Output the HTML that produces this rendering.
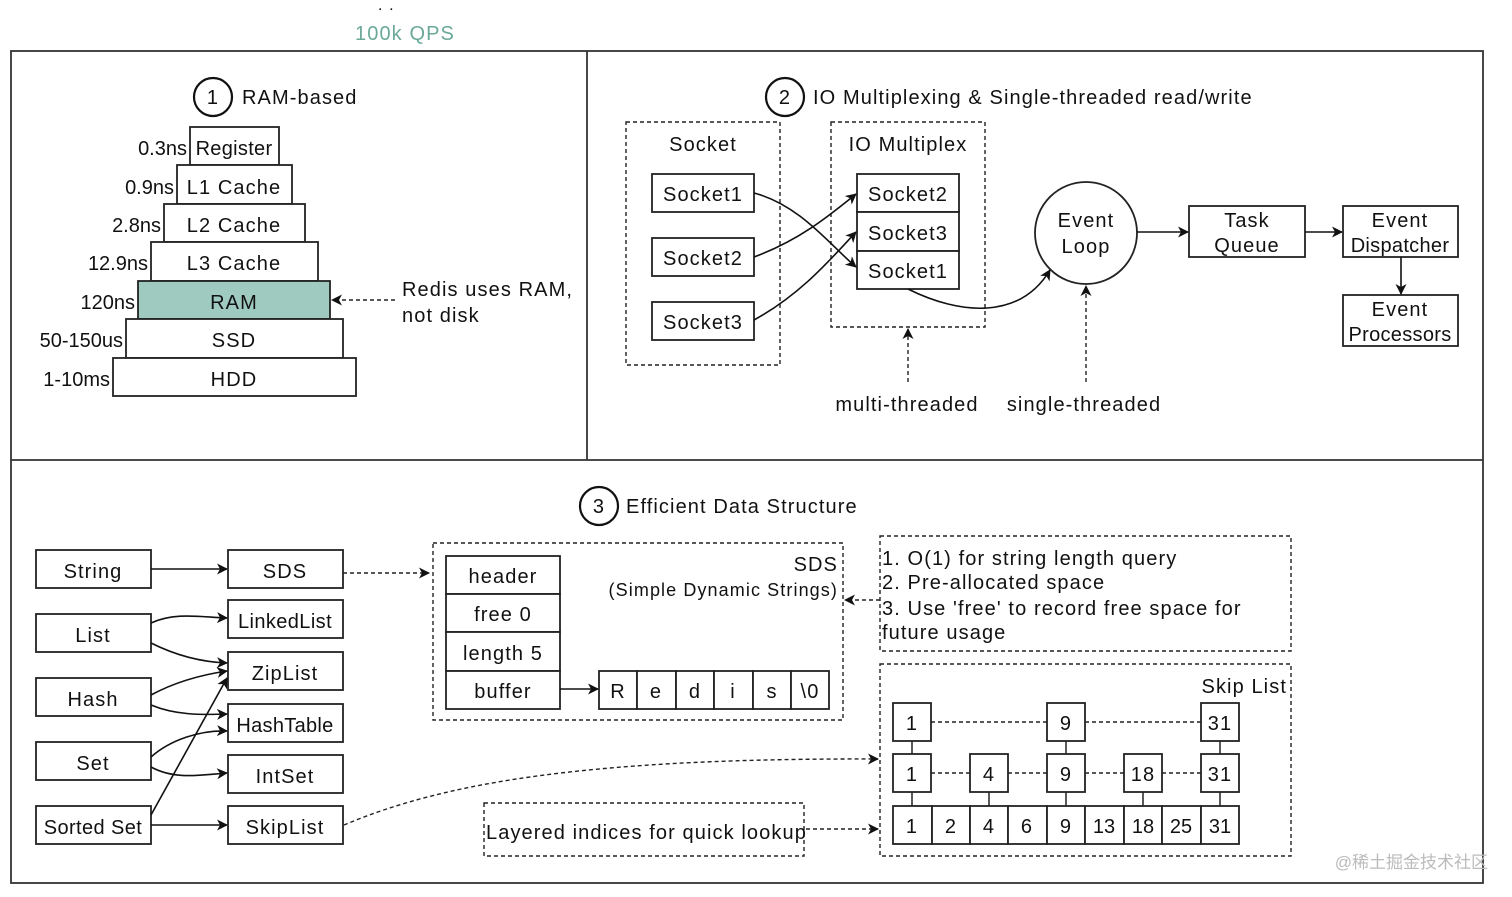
<!DOCTYPE html>
<html><head><meta charset="utf-8"><style>
html,body{margin:0;padding:0;background:#fff;}
svg{display:block;}
text{font-family:"Liberation Sans","Noto Sans CJK SC",sans-serif;font-size:20px;fill:#111;letter-spacing:1.1px;}
.c{text-anchor:middle;}
.r{text-anchor:end;}
.b{fill:#fff;stroke:#222;stroke-width:1.8;}
.d{fill:none;stroke:#222;stroke-width:1.4;stroke-dasharray:4 3;}
.l{fill:none;stroke:#111;stroke-width:1.6;}
</style></head><body>
<svg width="1512" height="897" viewBox="0 0 1512 897" xmlns="http://www.w3.org/2000/svg">
<defs>
<marker id="a" markerWidth="11" markerHeight="11" refX="10" refY="5.5" orient="auto" markerUnits="userSpaceOnUse">
<path d="M0,0 L11,5.5 L0,11 L3,5.5 Z" fill="#111"/></marker>
</defs>
<text x="378" y="10" style="font-size:16px">. .</text>
<text x="405" y="40" class="c" style="fill:#6aa99a">100k QPS</text>
<rect x="11" y="51" width="1472" height="832" fill="none" stroke="#333" stroke-width="1.8"/>
<line x1="587" y1="51" x2="587" y2="460" stroke="#333" stroke-width="1.8"/>
<line x1="11" y1="460" x2="1483" y2="460" stroke="#333" stroke-width="1.8"/>

<!-- Section 1 -->
<circle cx="213" cy="97" r="19" fill="none" stroke="#111" stroke-width="2.2"/>
<text x="213" y="104" class="c">1</text>
<text x="242" y="104">RAM-based</text>
<rect class="b" x="190" y="127" width="89" height="38"/><text x="234" y="155" class="c" style="letter-spacing:0.3px">Register</text>
<rect class="b" x="177" y="165" width="115" height="39"/><text x="234" y="194" class="c">L1 Cache</text>
<rect class="b" x="164" y="204" width="141" height="38"/><text x="234" y="232" class="c">L2 Cache</text>
<rect class="b" x="151" y="242" width="167" height="39"/><text x="234" y="270" class="c">L3 Cache</text>
<rect x="138" y="281" width="192" height="38" fill="#9fcac0" stroke="#222" stroke-width="1.8"/><text x="234" y="309" class="c">RAM</text>
<rect class="b" x="126" y="319" width="217" height="39"/><text x="234" y="347" class="c">SSD</text>
<rect class="b" x="113" y="358" width="243" height="38"/><text x="234" y="386" class="c">HDD</text>
<text x="187" y="155" class="r" style="letter-spacing:0">0.3ns</text>
<text x="174" y="194" class="r" style="letter-spacing:0">0.9ns</text>
<text x="161" y="232" class="r" style="letter-spacing:0">2.8ns</text>
<text x="148" y="270" class="r" style="letter-spacing:0">12.9ns</text>
<text x="135" y="309" class="r" style="letter-spacing:0">120ns</text>
<text x="123" y="347" class="r" style="letter-spacing:0">50-150us</text>
<text x="110" y="386" class="r" style="letter-spacing:0">1-10ms</text>
<line class="d" x1="395" y1="300" x2="332" y2="300" marker-end="url(#a)"/>
<text x="402" y="296">Redis uses RAM,</text>
<text x="402" y="322">not disk</text>

<!-- Section 2 -->
<circle cx="785" cy="97" r="19" fill="none" stroke="#111" stroke-width="2.2"/>
<text x="785" y="104" class="c">2</text>
<text x="813" y="104">IO Multiplexing &amp; Single-threaded read/write</text>
<rect class="d" x="626" y="122" width="154" height="243"/>
<text x="703" y="151" class="c">Socket</text>
<rect class="b" x="652" y="174" width="102" height="38"/><text x="703" y="201" class="c">Socket1</text>
<rect class="b" x="652" y="238" width="102" height="38"/><text x="703" y="265" class="c">Socket2</text>
<rect class="b" x="652" y="302" width="102" height="38"/><text x="703" y="329" class="c">Socket3</text>
<rect class="d" x="831" y="122" width="154" height="205"/>
<text x="908" y="151" class="c">IO Multiplex</text>
<rect class="b" x="857" y="174" width="102" height="38"/><text x="908" y="201" class="c">Socket2</text>
<rect class="b" x="857" y="212" width="102" height="39"/><text x="908" y="240" class="c">Socket3</text>
<rect class="b" x="857" y="251" width="102" height="38"/><text x="908" y="278" class="c">Socket1</text>
<path class="l" d="M754,193 C800,205 830,245 856,267" marker-end="url(#a)"/>
<path class="l" d="M754,257 C800,240 830,215 856,194" marker-end="url(#a)"/>
<path class="l" d="M754,320 C800,295 830,260 856,232" marker-end="url(#a)"/>
<path class="l" d="M908,289 C960,315 1020,320 1050,270" marker-end="url(#a)"/>
<circle cx="1086" cy="233" r="51" fill="#fff" stroke="#222" stroke-width="1.8"/>
<text x="1086" y="227" class="c">Event</text><text x="1086" y="253" class="c">Loop</text>
<rect class="b" x="1189" y="206" width="116" height="51"/>
<text x="1247" y="227" class="c">Task</text><text x="1247" y="252" class="c">Queue</text>
<rect class="b" x="1343" y="206" width="115" height="51"/>
<text x="1400" y="227" class="c">Event</text><text x="1400" y="252" class="c" style="letter-spacing:0.3px">Dispatcher</text>
<rect class="b" x="1343" y="295" width="115" height="51"/>
<text x="1400" y="316" class="c">Event</text><text x="1400" y="341" class="c" style="letter-spacing:0.3px">Processors</text>
<line class="l" x1="1137" y1="232" x2="1188" y2="232" marker-end="url(#a)"/>
<line class="l" x1="1305" y1="232" x2="1342" y2="232" marker-end="url(#a)"/>
<line class="l" x1="1401" y1="257" x2="1401" y2="294" marker-end="url(#a)"/>
<line class="d" x1="908" y1="382" x2="908" y2="329" marker-end="url(#a)"/>
<line class="d" x1="1086" y1="382" x2="1086" y2="286" marker-end="url(#a)"/>
<text x="907" y="411" class="c">multi-threaded</text>
<text x="1084" y="411" class="c">single-threaded</text>

<!-- Section 3 -->
<circle cx="599" cy="506" r="19" fill="none" stroke="#111" stroke-width="2.2"/>
<text x="599" y="513" class="c">3</text>
<text x="626" y="513">Efficient Data Structure</text>
<rect class="b" x="36" y="550" width="115" height="38"/><text x="93" y="578" class="c">String</text>
<rect class="b" x="36" y="614" width="115" height="38"/><text x="93" y="642" class="c">List</text>
<rect class="b" x="36" y="678" width="115" height="38"/><text x="93" y="706" class="c">Hash</text>
<rect class="b" x="36" y="742" width="115" height="38"/><text x="93" y="770" class="c">Set</text>
<rect class="b" x="36" y="806" width="115" height="38"/><text x="93" y="834" class="c" style="letter-spacing:0.4px">Sorted Set</text>
<rect class="b" x="228" y="550" width="115" height="38"/><text x="285" y="578" class="c">SDS</text>
<rect class="b" x="228" y="600" width="115" height="38"/><text x="285" y="628" class="c" style="letter-spacing:0.4px">LinkedList</text>
<rect class="b" x="228" y="652" width="115" height="38"/><text x="285" y="680" class="c">ZipList</text>
<rect class="b" x="228" y="704" width="115" height="38"/><text x="285" y="732" class="c" style="letter-spacing:0.3px">HashTable</text>
<rect class="b" x="228" y="755" width="115" height="38"/><text x="285" y="783" class="c">IntSet</text>
<rect class="b" x="228" y="806" width="115" height="38"/><text x="285" y="834" class="c">SkipList</text>
<line class="l" x1="151" y1="569" x2="227" y2="569" marker-end="url(#a)"/>
<path class="l" d="M151,623 C175,612 200,617 227,618" marker-end="url(#a)"/>
<path class="l" d="M151,643 C175,655 200,662 227,663" marker-end="url(#a)"/>
<path class="l" d="M151,695 C175,682 200,675 227,671" marker-end="url(#a)"/>
<path class="l" d="M151,705 C175,715 200,715 227,714" marker-end="url(#a)"/>
<path class="l" d="M151,757 C170,740 200,730 227,731" marker-end="url(#a)"/>
<path class="l" d="M151,767 C175,780 200,775 227,773" marker-end="url(#a)"/>
<line class="l" x1="151" y1="815" x2="227" y2="678" marker-end="url(#a)"/>
<line class="l" x1="151" y1="825" x2="227" y2="825" marker-end="url(#a)"/>
<line class="d" x1="343" y1="573" x2="429" y2="573" marker-end="url(#a)"/>
<path class="d" d="M344,825 C450,780 600,758 878,759" marker-end="url(#a)"/>

<rect class="d" x="433" y="543" width="410" height="177"/>
<text x="838" y="571" class="r">SDS</text>
<text x="838" y="596" class="r" style="font-size:18px">(Simple Dynamic Strings)</text>
<rect class="b" x="446" y="556" width="114" height="38"/><text x="503" y="583" class="c">header</text>
<rect class="b" x="446" y="594" width="114" height="38"/><text x="503" y="621" class="c">free 0</text>
<rect class="b" x="446" y="632" width="114" height="39"/><text x="503" y="660" class="c">length 5</text>
<rect class="b" x="446" y="671" width="114" height="38"/><text x="503" y="698" class="c">buffer</text>
<line class="l" x1="560" y1="689" x2="598" y2="689" marker-end="url(#a)"/>
<g>
<rect class="b" x="599" y="671" width="38" height="38"/><text x="618" y="698" class="c">R</text>
<rect class="b" x="637" y="671" width="39" height="38"/><text x="656" y="698" class="c">e</text>
<rect class="b" x="676" y="671" width="38" height="38"/><text x="695" y="698" class="c">d</text>
<rect class="b" x="714" y="671" width="39" height="38"/><text x="733" y="698" class="c">i</text>
<rect class="b" x="753" y="671" width="38" height="38"/><text x="772" y="698" class="c">s</text>
<rect class="b" x="791" y="671" width="38" height="38"/><text x="810" y="698" class="c">\0</text>
</g>
<rect class="d" x="880" y="536" width="411" height="115"/>
<line class="d" x1="880" y1="600" x2="845" y2="600" marker-end="url(#a)"/>
<text x="882" y="565">1. O(1) for string length query</text>
<text x="882" y="589">2. Pre-allocated space</text>
<text x="882" y="615">3. Use 'free' to record free space for</text>
<text x="882" y="639">future usage</text>

<rect class="d" x="880" y="664" width="411" height="192"/>
<text x="1287" y="693" class="r">Skip List</text>
<g stroke="#222" stroke-width="1.5" fill="none">
<line x1="912" y1="741" x2="912" y2="754"/><line x1="1066" y1="741" x2="1066" y2="754"/><line x1="1220" y1="741" x2="1220" y2="754"/>
<line x1="912" y1="792" x2="912" y2="806"/><line x1="989" y1="792" x2="989" y2="806"/><line x1="1066" y1="792" x2="1066" y2="806"/><line x1="1143" y1="792" x2="1143" y2="806"/><line x1="1220" y1="792" x2="1220" y2="806"/>
</g>
<line class="d" x1="931" y1="722" x2="1047" y2="722"/>
<line class="d" x1="1085" y1="722" x2="1201" y2="722"/>
<line class="d" x1="931" y1="773" x2="970" y2="773"/>
<line class="d" x1="1008" y1="773" x2="1047" y2="773"/>
<line class="d" x1="1085" y1="773" x2="1124" y2="773"/>
<line class="d" x1="1162" y1="773" x2="1201" y2="773"/>
<rect class="b" x="893" y="703" width="38" height="38"/><text x="912" y="730" class="c">1</text>
<rect class="b" x="1047" y="703" width="38" height="38"/><text x="1066" y="730" class="c">9</text>
<rect class="b" x="1201" y="703" width="38" height="38"/><text x="1220" y="730" class="c">31</text>
<rect class="b" x="893" y="754" width="38" height="38"/><text x="912" y="781" class="c">1</text>
<rect class="b" x="970" y="754" width="38" height="38"/><text x="989" y="781" class="c">4</text>
<rect class="b" x="1047" y="754" width="38" height="38"/><text x="1066" y="781" class="c">9</text>
<rect class="b" x="1124" y="754" width="38" height="38"/><text x="1143" y="781" class="c">18</text>
<rect class="b" x="1201" y="754" width="38" height="38"/><text x="1220" y="781" class="c">31</text>
<g>
<rect class="b" x="893" y="806" width="39" height="38"/><text x="912" y="833" class="c">1</text>
<rect class="b" x="932" y="806" width="38" height="38"/><text x="951" y="833" class="c">2</text>
<rect class="b" x="970" y="806" width="38" height="38"/><text x="989" y="833" class="c">4</text>
<rect class="b" x="1008" y="806" width="39" height="38"/><text x="1027" y="833" class="c">6</text>
<rect class="b" x="1047" y="806" width="38" height="38"/><text x="1066" y="833" class="c">9</text>
<rect class="b" x="1085" y="806" width="39" height="38"/><text x="1104" y="833" class="c" style="letter-spacing:0">13</text>
<rect class="b" x="1124" y="806" width="38" height="38"/><text x="1143" y="833" class="c" style="letter-spacing:0">18</text>
<rect class="b" x="1162" y="806" width="39" height="38"/><text x="1181" y="833" class="c" style="letter-spacing:0">25</text>
<rect class="b" x="1201" y="806" width="38" height="38"/><text x="1220" y="833" class="c" style="letter-spacing:0">31</text>
</g>
<rect class="d" x="484" y="803" width="320" height="53"/>
<text x="486" y="839">Layered indices for quick lookup</text>
<line class="d" x1="806" y1="829" x2="878" y2="829" marker-end="url(#a)"/>
<text x="1488" y="868" class="r" style="font-size:17px;fill:#bbb;letter-spacing:0">@稀土掘金技术社区</text>
</svg>
</body></html>
